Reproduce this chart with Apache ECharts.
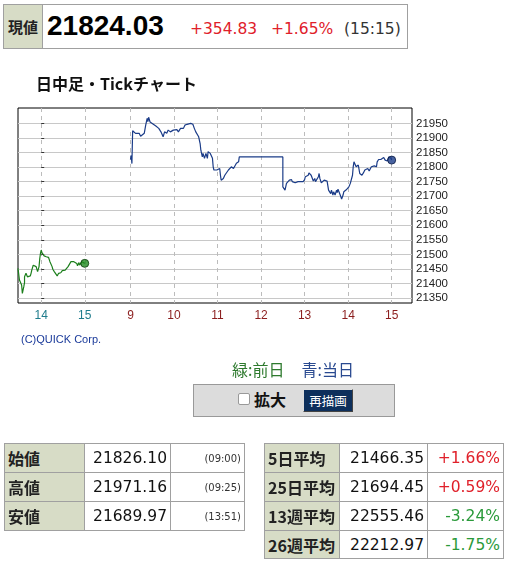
<!DOCTYPE html>
<html><head><meta charset="utf-8">
<script src="https://cdn.jsdelivr.net/npm/echarts@6/dist/echarts.min.js"></script>
<style>
html,body{margin:0;padding:0;width:510px;height:567px;background:#fff;overflow:hidden;}
body{position:relative;font-family:"DejaVu Sans","Noto Sans CJK JP",sans-serif;color:#111;}
#chart{position:absolute;left:0;top:0;width:510px;height:567px;z-index:0;}
.a{position:absolute;z-index:1;box-sizing:border-box;white-space:nowrap;}
.cell{position:absolute;z-index:1;box-sizing:border-box;border:1px solid #a0a0a0;display:flex;align-items:center;white-space:nowrap;}
.lab{background:#d7dcc6;font-family:"Noto Sans CJK JP";font-weight:bold;font-size:16px;color:#222;padding-left:3px;}
.val{justify-content:flex-end;font-size:15.5px;padding-right:3px;background:#fff;}
.tm{justify-content:flex-end;font-size:10px;padding-right:3px;color:#333;background:#fff;}
.up{color:#e0202a;}
.dn{color:#2a9a3a;}
</style></head>
<body>
<div id="chart"></div>

<!-- header -->
<div class="a" style="left:3px;top:4px;width:405px;height:45px;border:1px solid #a0a0a0;background:#fff;"></div>
<div class="a" style="left:4px;top:5px;width:39px;height:43px;background:#d7dcc6;border-right:1px solid #a0a0a0;font-family:'Noto Sans CJK JP';font-weight:bold;font-size:15px;line-height:43px;text-align:center;color:#222;">現値</div>
<div class="a" style="left:47px;top:10px;font-family:'Liberation Sans';font-weight:bold;font-size:28px;line-height:32px;color:#000;">21824.03</div>
<div class="a up" style="left:190px;top:20px;font-size:15.5px;line-height:18px;">+354.83</div>
<div class="a up" style="left:271px;top:20px;font-size:15.5px;line-height:18px;">+1.65%</div>
<div class="a" style="left:344px;top:20px;font-size:15.5px;line-height:18px;color:#333;">(15:15)</div>

<div class="a" style="left:21px;top:333px;font-family:'Liberation Sans';font-size:11px;color:#1a3a9a;">(C)QUICK Corp.</div>

<div class="a" style="left:232px;top:359px;font-family:'Noto Sans CJK JP';font-size:16px;line-height:20px;"><span style="color:#2e7a2e">緑:前日</span><span style="color:#2a4a90;margin-left:17px;">青:当日</span></div>

<div class="a" style="left:193px;top:384px;width:202px;height:33px;background:#dcdcdc;border:1px solid #999;"></div>
<div class="a" style="left:238px;top:393px;width:12px;height:12px;background:#fff;border:1px solid #999;border-radius:2px;"></div>
<div class="a" style="left:254px;top:389px;font-family:'Noto Sans CJK JP';font-weight:bold;font-size:16px;line-height:20px;color:#111;">拡大</div>
<div class="a" style="left:303px;top:389px;width:50px;height:23px;background:#0d2f5c;border:1px solid;border-color:#ddd #444 #444 #ddd;color:#fff;font-family:'Noto Sans CJK JP';font-size:12.5px;line-height:21px;text-align:center;">再描画</div>

<div id="tables"></div>

<script>
// ---- chart data ----
const prevTimes = ['13:28','13:29','13:30','13:32','13:33','13:34','13:35','13:36','13:37','13:37','13:38','13:39','13:41','13:42','13:43','13:45','13:46','13:47','13:49','13:50','13:51','13:53','13:54','13:55','13:56','13:57','13:58','13:59','14:00','14:01','14:02','14:03','14:04','14:06','14:07','14:08','14:10','14:11','14:12','14:14','14:15','14:16','14:18','14:19','14:20','14:22','14:23','14:24','14:26','14:27','14:29','14:30','14:31','14:33','14:34','14:35','14:37','14:38','14:39','14:41','14:42','14:43','14:45','14:46','14:47','14:49','14:50','14:52','14:53','14:54','14:56','14:57','14:58','15:00'];
const prevValues = [21452,21449,21412,21406,21395,21366,21361,21389,21403,21423,21417,21435,21423,21429,21421,21426,21435,21446,21463,21469,21463,21458,21452,21441,21435,21458,21486,21504,21515,21506,21501,21504,21495,21498,21492,21495,21490,21486,21475,21469,21458,21449,21441,21435,21437,21426,21429,21435,21441,21437,21444,21449,21441,21446,21449,21452,21458,21456,21463,21475,21478,21472,21475,21469,21475,21469,21461,21472,21463,21469,21475,21472,21469,21469.20];

const todayTimes = ['9:00','9:01','9:02','9:03','9:05','9:07','9:09','9:12','9:14','9:16','9:19','9:21','9:23','9:24','9:25','9:27','9:30','9:32','9:35','9:37','9:39','9:42','9:44','9:45','9:47','9:50','9:52','9:55','9:57','9:59','10:01','10:04','10:06','10:09','10:11','10:13','10:15','10:18','10:20','10:23','10:24','10:26','10:28','10:30','10:32','10:34','10:36','10:37','10:38','10:39','10:40','10:42','10:44','10:46','10:47','10:49','10:50','10:52','10:53','10:54','10:55','10:57','10:59','11:01','11:03','11:04','11:05','11:08','11:10','11:12','11:15','11:17','11:19','11:22','11:24','11:26','11:29','11:30',
 '12:30','12:30','12:31','12:33','12:35','12:36','12:37','12:39','12:42','12:43','12:45','12:47','12:48','12:51','12:53','12:55','12:58','13:00','13:01','13:03','13:05','13:06','13:08','13:09','13:11','13:12','13:14','13:15','13:17','13:19','13:20','13:21','13:22','13:23','13:25','13:27','13:29','13:31','13:32','13:33','13:34','13:36','13:37','13:39','13:40','13:42','13:44','13:45','13:46','13:48','13:50','13:51','13:53','13:54','13:56','13:57','13:59','14:01','14:03','14:04','14:06','14:07','14:08','14:10','14:11','14:13','14:14','14:16','14:18','14:19','14:21','14:23','14:25','14:27','14:29','14:30','14:32','14:34','14:36','14:39','14:40','14:42','14:43','14:45','14:47','14:49','14:51','14:53','14:54','14:56','14:58','14:59','15:00'];
const todayValues = [21826.10,21840,21812,21925,21919,21916,21910,21916,21906,21910,21916,21944,21967,21956,21971.16,21955,21950,21956,21941,21947,21933,21921,21916,21904,21921,21916,21927,21921,21918,21927,21921,21929,21921,21933,21927,21933,21944,21947,21944,21950,21944,21947,21933,21921,21921,21904,21881,21858,21847,21835,21847,21830,21847,21830,21853,21858,21847,21853,21830,21801,21790,21795,21790,21784,21795,21772,21755,21761,21772,21778,21790,21795,21801,21795,21801,21813,21818,21835,
 21835,21732,21727,21721,21744,21750,21742,21755,21757,21750,21755,21746,21742,21750,21746,21750,21750,21757,21767,21761,21772,21780,21784,21772,21767,21752,21761,21750,21755,21767,21778,21761,21755,21746,21750,21755,21755,21752,21752,21721,21715,21709,21721,21704,21715,21704,21721,21712,21724,21719,21698,21689.97,21704,21715,21712,21721,21719,21732,21744,21746,21772,21801,21818,21812,21801,21795,21807,21778,21784,21772,21780,21790,21784,21795,21787,21792,21801,21801,21804,21801,21818,21826,21821,21826,21824,21833,21824,21830,21821,21835,21841,21830,21824.03];

const prevTickHours = [14, 15];
const todayTickHours = [9, 10, 11, 12, 13, 14, 15];
const priceTicks = [21350,21400,21450,21500,21550,21600,21650,21700,21750,21800,21850,21900,21950];

// ---- stats tables ----
const ohlLabels = ['始値','高値','安値'];
const ohlValues = ['21826.10','21971.16','21689.97'];
const ohlTimes = ['(09:00)','(09:25)','(13:51)'];
const maLabels = ['5日平均','25日平均','13週平均','26週平均'];
const maValues = ['21466.35','21694.45','22555.46','22212.97'];
const maPcts = ['+1.66%','+0.59%','-3.24%','-1.75%'];

// time axis: previous day measured from 14:00, today continues after a gap
const SESSION_GAP = 63;
const mins = t => { const p = t.split(':').map(Number); return p[0]*60 + p[1]; };
const prevX = t => mins(t) - 14*60;
const todayX = t => mins(t) - 9*60 + 60 + SESSION_GAP;

const prevData = prevTimes.map((t,i) => [prevX(t), prevValues[i]]);
const todayData = todayTimes.map((t,i) => [todayX(t), todayValues[i]]);

const tickXs = [];
const tickLab = {};
prevTickHours.forEach(h => { const x = prevX(h+':00'); tickXs.push(x); tickLab[x] = '{p|'+h+'}'; });
todayTickHours.forEach(h => { const x = todayX(h+':00'); tickXs.push(x); tickLab[x] = '{t|'+h+'}'; });

const chart = echarts.init(document.getElementById('chart'), null, {renderer:'canvas'});
chart.setOption({
  animation:false,
  backgroundColor:'transparent',
  title:{text:'日中足・Tickチャート', left:36, top:76, padding:0,
    textStyle:{fontFamily:'Noto Sans CJK JP', fontWeight:'bold', fontSize:16, color:'#111'}},
  grid:{left:18, top:108, width:394, height:195, show:true, borderColor:'#000', borderWidth:1, backgroundColor:'#fff'},
  xAxis:{type:'value', min:-32, max:511,
    axisLine:{show:false},
    axisTick:{show:false, customValues:tickXs},
    splitLine:{show:true, lineStyle:{color:'#bcbcbc', type:[4,4], width:1}},
    axisLabel:{customValues:tickXs, margin:7, fontFamily:'Liberation Sans', fontSize:12,
      formatter: v => tickLab[v] || '',
      rich:{p:{color:'#1f7c8c', fontFamily:'Liberation Sans', fontSize:12}, t:{color:'#8b1d1d', fontFamily:'Liberation Sans', fontSize:12}}}
  },
  yAxis:{type:'value', position:'right', min:21333, max:22003,
    axisLine:{show:false},
    axisTick:{show:true, length:3, customValues:priceTicks, lineStyle:{color:'#333'}},
    splitLine:{show:true, lineStyle:{color:'#c8c8c8', width:1}},
    axisLabel:{customValues:priceTicks, margin:4, fontFamily:'Liberation Sans', fontSize:11.5, color:'#222',
      formatter: v => String(v)}
  },
  series:[
    {type:'line', data:prevData, showSymbol:false, lineStyle:{color:'#1c7f1c', width:1.2}, z:3},
    {type:'line', data:todayData, showSymbol:false, lineStyle:{color:'#1b3c88', width:1.2}, z:3},
    {type:'scatter', data:[prevData[prevData.length-1]], symbolSize:8, itemStyle:{color:'#1f8a1f', borderColor:'#0b3a0b', borderWidth:1}, z:4},
    {type:'scatter', data:[todayData[todayData.length-1]], symbolSize:8, itemStyle:{color:'#1b3c88', borderColor:'#0a1a44', borderWidth:1}, z:4}
  ]
});

// build tables
const T = document.getElementById('tables');
function cell(x1,y1,x2,y2,cls,html){
  const d = document.createElement('div');
  d.className = 'cell ' + cls;
  d.style.left = x1+'px'; d.style.top = y1+'px';
  d.style.width = (x2-x1+1)+'px'; d.style.height = (y2-y1+1)+'px';
  d.innerHTML = html; T.appendChild(d);
}
const lRows = [443,472,501,530];
const lCols = [4,84,170,244];
ohlLabels.forEach((l,i)=>{
  cell(lCols[0],lRows[i],lCols[1],lRows[i+1],'lab',l);
  cell(lCols[1],lRows[i],lCols[2],lRows[i+1],'val',ohlValues[i]);
  cell(lCols[2],lRows[i],lCols[3],lRows[i+1],'tm',ohlTimes[i]);
});
const rRows = [443,472,501,530,558];
const rCols = [264,339,427,503];
maLabels.forEach((l,i)=>{
  cell(rCols[0],rRows[i],rCols[1],rRows[i+1],'lab',l);
  cell(rCols[1],rRows[i],rCols[2],rRows[i+1],'val',maValues[i]);
  cell(rCols[2],rRows[i],rCols[3],rRows[i+1],'val '+(maPcts[i][0]==='+'?'up':'dn'),maPcts[i]);
});
</script>
</body></html>
